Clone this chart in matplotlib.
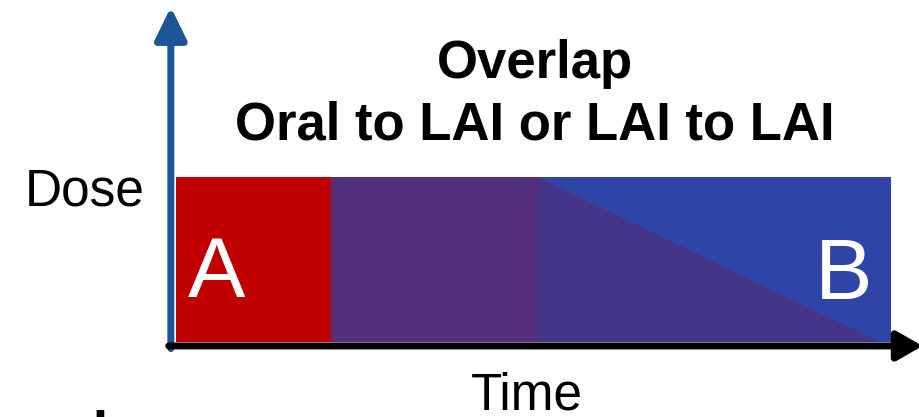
import matplotlib
matplotlib.use('Agg')
import matplotlib.pyplot as plt
from matplotlib.patches import Rectangle, Polygon

plt.rcParams['font.family'] = ['Liberation Sans', 'DejaVu Sans']

# Phases on the time axis (arbitrary time units) and dose level
a_only = [0.0, 3.0]          # drug A alone
overlap = [3.0, 7.0]         # A and B together at full dose
b_full = [7.0, 13.83]        # B at full dose while A tapers off
a_taper_end = 13.62          # A dose reaches zero here
dose = 1.0

title_lines = ['Overlap', 'Oral to LAI or LAI to LAI']
x_label = 'Time'
y_label = 'Dose'
phase_labels = ['A', 'B']

c_a = '#c00000'
c_overlap = '#542f7b'
c_b = '#2e44a6'
c_taper = '#443588'

# pixel layout of the figure (920x417)
W, H = 920, 417
px_x, x0 = 51.67, 176   # px per time unit, px of t=0
px_y, y0 = 165.0, 342   # px per dose unit, px of dose=0

fig = plt.figure(figsize=(W / 100, H / 100), dpi=100)
ax = fig.add_axes([0, 0, 1, 1])
ax.set_xlim(-x0 / px_x, (W - x0) / px_x)
ax.set_ylim((y0 - H) / px_y, y0 / px_y)
ax.axis('off')

ax.add_patch(Rectangle((a_only[0], 0), a_only[1] - a_only[0], dose, color=c_a, lw=0))
ax.add_patch(Rectangle((overlap[0], 0), overlap[1] - overlap[0], dose, color=c_overlap, lw=0))
ax.add_patch(Rectangle((b_full[0], 0), b_full[1] - b_full[0], dose, color=c_b, lw=0))
ax.add_patch(Polygon([(b_full[0], 0), (b_full[0], dose), (a_taper_end, 0)],
                     closed=True, color=c_taper, lw=0))

# axes arrows
ax.annotate('', xy=(-0.1, 2.03), xytext=(-0.1, -0.04), annotation_clip=False,
            arrowprops=dict(arrowstyle='-|>,head_length=0.45,head_width=0.22', lw=5,
                            color='#1c5597', mutation_scale=44, shrinkA=0, shrinkB=0))
ax.annotate('', xy=(14.45, -0.024), xytext=(-0.14, -0.024), annotation_clip=False,
            arrowprops=dict(arrowstyle='-|>,head_length=0.35,head_width=0.2', lw=5,
                            color='black', mutation_scale=44, shrinkA=0, shrinkB=0))

ax.text(6.95, 1.6, title_lines[0], fontsize=38, fontweight='bold', ha='center', va='baseline')
ax.text(6.95, 1.23, title_lines[1], fontsize=38, fontweight='bold', ha='center', va='baseline')
ax.text(-1.76, 0.83, y_label, fontsize=37, ha='center', va='baseline')
ax.text(6.79, -0.412, x_label, fontsize=37, ha='center', va='baseline')
ax.text(0.79, 0.273, phase_labels[0], fontsize=62, color='white', ha='center', va='baseline')
ax.text(12.93, 0.26, phase_labels[1], fontsize=62, color='white', ha='center', va='baseline')
# fragment of slide text cut off at the bottom
ax.text(-2.1, -0.79, 'ti', fontsize=62, ha='left', va='baseline')

fig.savefig('out.png', dpi=100)
